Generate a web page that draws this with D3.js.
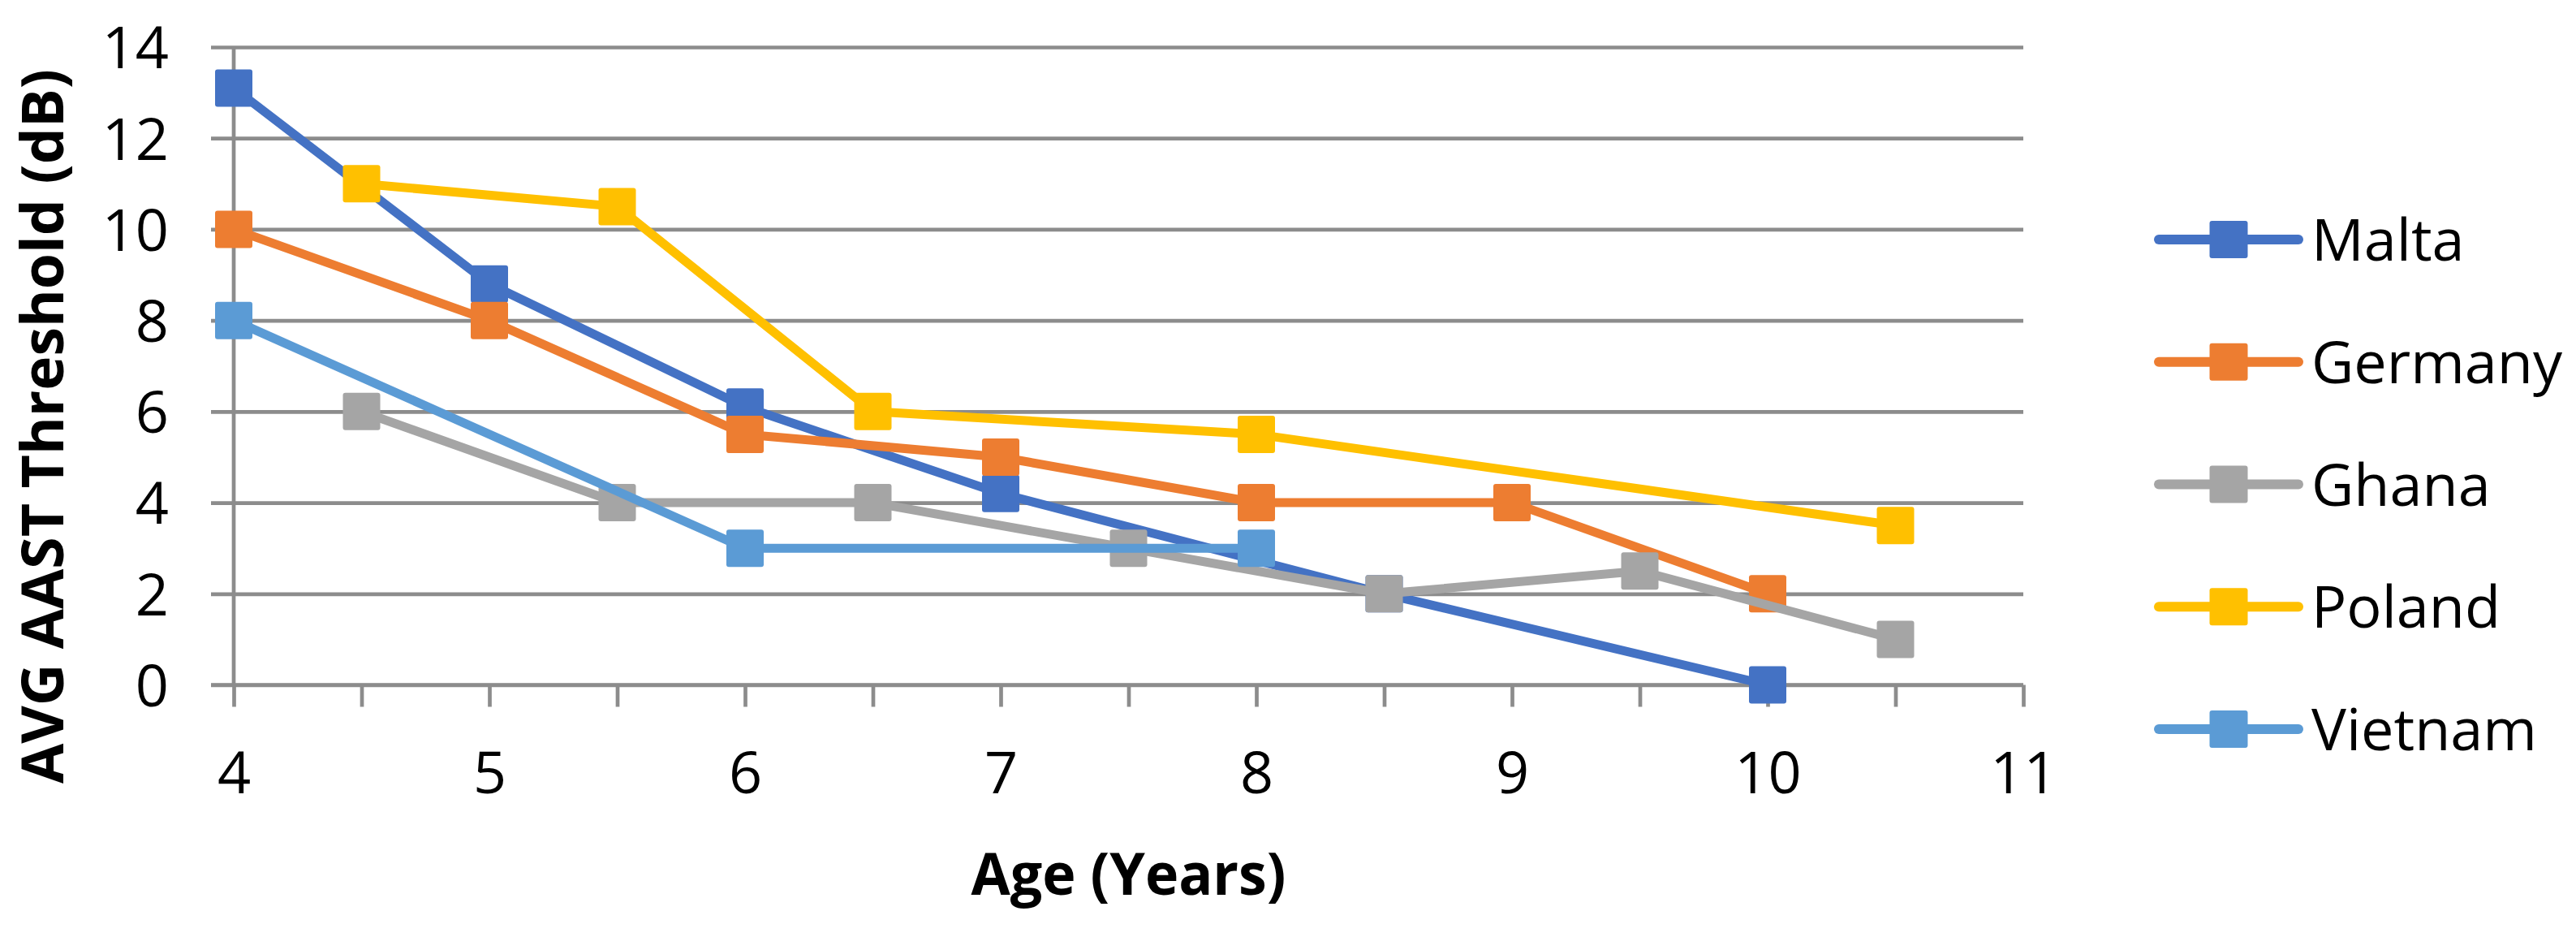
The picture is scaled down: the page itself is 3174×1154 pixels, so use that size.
<!DOCTYPE html>
<html>
<head>
<meta charset="utf-8">
<script src="https://cdn.jsdelivr.net/npm/d3@7"></script>
<style>
  html, body { margin: 0; padding: 0; background: #fff; }
  #svg-container { width: 3174px; height: 1154px; }
  text { font-family: "Open Sans", "Noto Sans", sans-serif; fill: #000; }
</style>
</head>
<body>
<div id="svg-container"></div>
<script>
////////////////////////////////////////////////////////////////////
////////////////////////////  Data  ////////////////////////////////
const seriesNames = ["Malta", "Germany", "Ghana", "Poland", "Vietnam"];
const seriesColors = ["#4472C4", "#ED7D31", "#A5A5A5", "#FFC000", "#5B9BD5"];

// age (years) / threshold (dB) per country
const maltaAge = [4, 5, 6, 7, 8.5, 10];
const maltaDb = [13.1, 8.8, 6.1, 4.2, 2.0, 0];

const germanyAge = [4, 5, 6, 7, 8, 9, 10];
const germanyDb = [10, 8, 5.5, 5, 4, 4, 2];

const ghanaAge = [4.5, 5.5, 6.5, 7.5, 8.5, 9.5, 10.5];
const ghanaDb = [6, 4, 4, 3, 2, 2.5, 1];

const polandAge = [4.5, 5.5, 6.5, 8, 10.5];
const polandDb = [11, 10.5, 6, 5.5, 3.5];

const vietnamAge = [4, 6, 8];
const vietnamDb = [8, 3, 3];

const xTicks = [4, 4.5, 5, 5.5, 6, 6.5, 7, 7.5, 8, 8.5, 9, 9.5, 10, 10.5, 11];
const yTicks = [0, 2, 4, 6, 8, 10, 12, 14];

const xTitle = "Age (Years)";
const yTitle = "AVG AAST Threshold (dB)";

////////////////////////////////////////////////////////////////////
////////////////////////////  Init  ////////////////////////////////
const width = 3174;
const height = 1154;

const svg = d3
  .select("#svg-container")
  .append("svg")
  .attr("width", width)
  .attr("height", height);

const margin = { top: 58, right: 681, bottom: 310.5, left: 288 };
const gridColor = "#8c8c8c";

const xScale = d3.scaleLinear().domain([4, 11]).range([margin.left, width - margin.right]);
const yScale = d3.scaleLinear().domain([0, 14]).range([height - margin.bottom, margin.top]);

const plotW = width - margin.right - margin.left;

// build series table from the arrays
const series = [
  [maltaAge, maltaDb],
  [germanyAge, germanyDb],
  [ghanaAge, ghanaDb],
  [polandAge, polandDb],
  [vietnamAge, vietnamDb],
].map(([ages, vals], i) => ({
  name: seriesNames[i],
  color: seriesColors[i],
  values: ages.map((a, j) => ({ age: a, db: vals[j] })),
}));

////////////////////////////////////////////////////////////////////
////////////////////////////  Axes  ////////////////////////////////
// y axis + gridlines (ticks stretched across the plot)
const yAxis = d3
  .axisLeft(yScale)
  .tickValues(yTicks)
  .tickSize(-plotW)
  .tickPadding(0)
  .tickSizeOuter(0);

const gy = svg
  .append("g")
  .attr("class", "y-axis")
  .attr("transform", `translate(${margin.left},0)`)
  .call(yAxis);

gy.select(".domain").remove();
gy.selectAll(".tick line")
  .attr("x1", -28)
  .attr("stroke", gridColor)
  .attr("stroke-width", 4.7);
gy.selectAll(".tick text")
  .attr("x", -80)
  .attr("dy", "0.36em")
  .style("font-size", "72px")
  .style("font-family", "'Open Sans', sans-serif");

// x axis
const xAxis = d3
  .axisBottom(xScale)
  .tickValues(xTicks)
  .tickSize(27)
  .tickSizeOuter(0)
  .tickFormat((d) => (Number.isInteger(d) ? d : ""));

const gx = svg
  .append("g")
  .attr("class", "x-axis")
  .attr("transform", `translate(0,${yScale(0)})`)
  .call(xAxis);

gx.select(".domain").remove();
gx.selectAll(".tick line").attr("stroke", gridColor).attr("stroke-width", 4.7);
gx.selectAll(".tick text")
  .attr("y", 133)
  .attr("dy", 0)
  .style("font-size", "72px")
  .style("font-family", "'Open Sans', sans-serif");

// x axis line (drawn from the y tick stub) and vertical axis line
svg
  .append("line")
  .attr("x1", margin.left - 28)
  .attr("x2", xScale(11))
  .attr("y1", yScale(0))
  .attr("y2", yScale(0))
  .attr("stroke", gridColor)
  .attr("stroke-width", 4.7);

svg
  .append("line")
  .attr("x1", xScale(4))
  .attr("x2", xScale(4))
  .attr("y1", yScale(14))
  .attr("y2", yScale(0))
  .attr("stroke", gridColor)
  .attr("stroke-width", 4.7);

// axis titles
svg
  .append("text")
  .attr("x", (xScale(4) + xScale(11)) / 2)
  .attr("y", 1102)
  .attr("text-anchor", "middle")
  .attr("textLength", 388)
  .attr("lengthAdjust", "spacingAndGlyphs")
  .style("font-size", "72px")
  .style("font-weight", "bold")
  .text(xTitle);

svg
  .append("text")
  .attr("transform", "translate(78,525) rotate(-90)")
  .attr("text-anchor", "middle")
  .attr("textLength", 880)
  .attr("lengthAdjust", "spacingAndGlyphs")
  .style("font-size", "72px")
  .style("font-weight", "bold")
  .text(yTitle);

////////////////////////////////////////////////////////////////////
////////////////////////////  Lines  ///////////////////////////////
const line = d3
  .line()
  .x((d) => xScale(d.age))
  .y((d) => yScale(d.db));

const mSize = 46;

series.forEach((s) => {
  const g = svg.append("g").attr("class", "series");

  g.append("path")
    .datum(s.values)
    .attr("fill", "none")
    .attr("stroke", s.color)
    .attr("stroke-width", 11)
    .attr("stroke-linejoin", "round")
    .attr("d", line);

  g.selectAll("rect")
    .data(s.values)
    .join("rect")
    .attr("x", (d) => xScale(d.age) - mSize / 2)
    .attr("y", (d) => yScale(d.db) - mSize / 2)
    .attr("width", mSize)
    .attr("height", mSize)
    .attr("rx", 3)
    .attr("fill", s.color);
});

////////////////////////////////////////////////////////////////////
////////////////////////////  Legend  //////////////////////////////
const legendY = d3.scalePoint().domain(seriesNames).range([295, 898]);

const lg = svg
  .selectAll(".legend-item")
  .data(series)
  .join("g")
  .attr("class", "legend-item")
  .attr("transform", (d) => `translate(2660,${legendY(d.name)})`);

lg.append("line")
  .attr("x1", 0)
  .attr("x2", 172)
  .attr("stroke", (d) => d.color)
  .attr("stroke-width", 12)
  .attr("stroke-linecap", "round");

lg.append("rect")
  .attr("x", 86 - 47 / 2)
  .attr("y", -mSize / 2)
  .attr("width", 47)
  .attr("height", mSize)
  .attr("rx", 3)
  .attr("fill", (d) => d.color);

lg.append("text")
  .attr("x", 188)
  .attr("y", 26)
  .style("font-size", "72px")
  .text((d) => d.name);
</script>
</body>
</html>
